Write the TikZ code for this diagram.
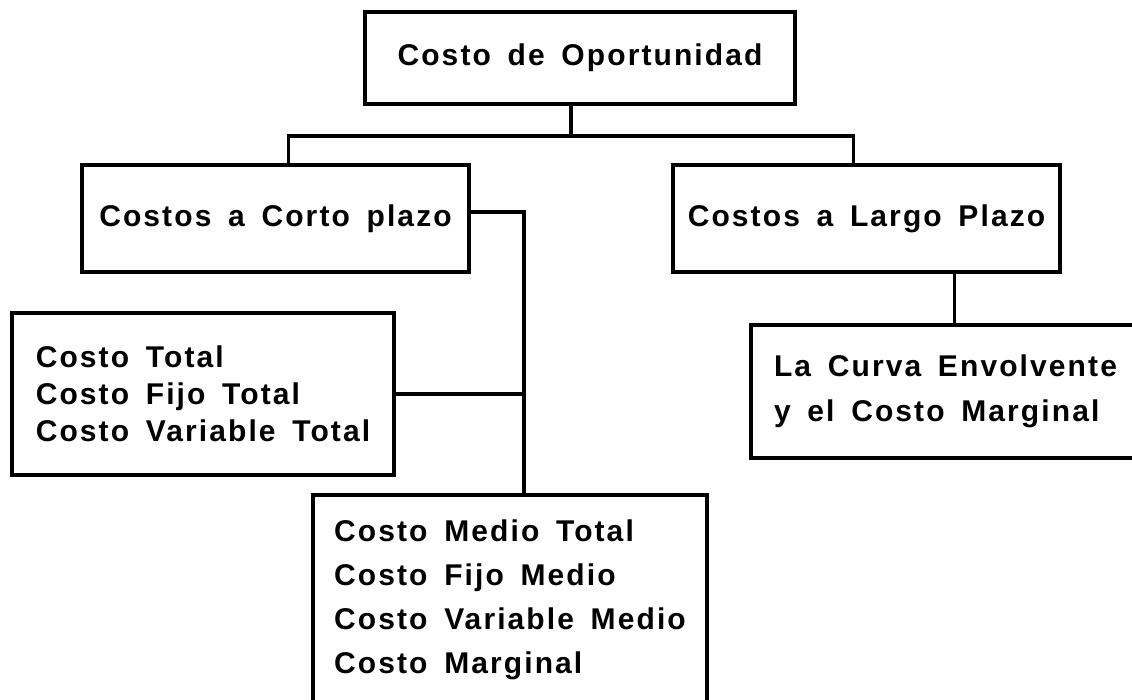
\documentclass[tikz,border=0pt]{standalone}
\usepackage{fontspec}
\setmainfont{Liberation Sans}[LetterSpace=7,WordSpace=1.6]
\begin{document}
\begin{tikzpicture}[x=1pt,y=-1pt,
	caja/.style={draw,rectangle,line width=4.5pt,inner sep=0pt,
		font=\bfseries\fontsize{30}{#1}\selectfont},
	caja/.default=37,
	linea/.style={line width=3.5pt}]
	\useasboundingbox (0,0) rectangle (1132,700);
	%top box
	\node[caja,minimum width=430pt,minimum height=92pt] (oport) at (580,58) {Costo de Oportunidad};
	%second level
	\node[caja,minimum width=387pt,minimum height=107pt] (corto) at (275.5,218.5) {Costos a Corto plazo};
	\node[caja,minimum width=387pt,minimum height=107pt] (largo) at (866.5,218.5) {Costos a Largo Plazo};
	%short run lists
	\node[caja,minimum width=382pt,minimum height=162pt,align=left] (total) at (203,394)
		{Costo Total\\Costo Fijo Total\\Costo Variable Total};
	\node[caja=44,minimum width=394pt,minimum height=210pt,align=left] (medio) at (510,600)
		{Costo Medio Total\\Costo Fijo Medio\\Costo Variable Medio\\Costo Marginal};
	%long run
	\node[caja=45,minimum width=389pt,minimum height=133pt,align=left] (curva) at (945.5,391.5)
		{La Curva Envolvente\\y el Costo Marginal};
	%connectors
	\coordinate (nudo) at (571,136);
	\draw[linea] ([xshift=-9pt]oport.south) -- (nudo);
	\draw[linea] ([xshift=13pt]corto.north) |- (nudo) -| ([xshift=-13pt]largo.north);
	\coordinate (eje) at (524,212);
	\draw[linea] (corto.east |- eje) -- (eje) -- (eje |- medio.north);
	\draw[linea] (total.east) -- (total.east -| eje);
	\coordinate (bajada) at ([xshift=88pt]largo.south);
	\draw[linea] (bajada) -- (bajada |- curva.north);
\end{tikzpicture}
\end{document}
